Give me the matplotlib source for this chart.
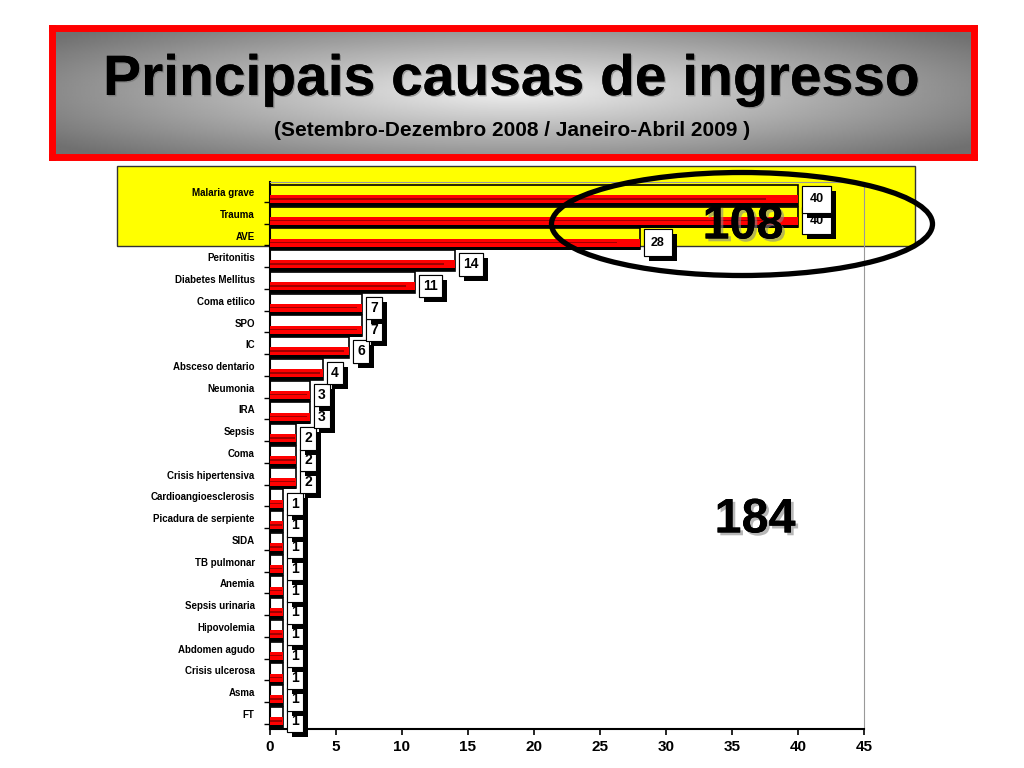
import numpy as np
import matplotlib
matplotlib.use("Agg")
from matplotlib import pyplot as plt
from matplotlib import patches
from matplotlib import patheffects as pe

causes = ["Malaria grave", "Trauma", "AVE", "Peritonitis", "Diabetes Mellitus",
          "Coma etilico", "SPO", "IC", "Absceso dentario", "Neumonia", "IRA",
          "Sepsis", "Coma", "Crisis hipertensiva", "Cardioangioesclerosis",
          "Picadura de serpiente", "SIDA", "TB pulmonar", "Anemia",
          "Sepsis urinaria", "Hipovolemia", "Abdomen agudo", "Crisis ulcerosa",
          "Asma", "FT"]
counts = [40, 40, 28, 14, 11, 7, 7, 6, 4, 3, 3, 2, 2, 2,
          1, 1, 1, 1, 1, 1, 1, 1, 1, 1, 1]
xticks = [0, 5, 10, 15, 20, 25, 30, 35, 40, 45]
title = "Principais causas de ingresso"
subtitle = "(Setembro-Dezembro 2008 / Janeiro-Abril 2009 )"
top_total = "108"
all_total = "184"

plt.rcParams['font.family'] = ['Liberation Sans', 'DejaVu Sans']

W, H = 1024, 768
fig = plt.figure(figsize=(W / 100, H / 100), dpi=100)
fig.patch.set_facecolor('white')


def fx(px):
    return px / W


def fy(py):
    return 1 - py / H


# --- banner ---
bax = fig.add_axes([fx(51.5), fy(156.5), fx(922), 129 / H])
gx, gy = np.meshgrid(np.linspace(-1, 1, 400), np.linspace(-1, 1, 120))
r = np.sqrt(gx ** 2 + (gy * 0.9) ** 2)
grad = 0.94 - 0.5 * np.clip(r / 1.25, 0, 1)
bax.imshow(grad, cmap='gray', vmin=0, vmax=1, extent=[0, 1, 0, 1],
           aspect='auto', interpolation='bilinear')
bax.set_xticks([])
bax.set_yticks([])
for s in bax.spines.values():
    s.set_color('#ff0000')
    s.set_linewidth(5)

shadow = [pe.withSimplePatchShadow(offset=(1, -1), shadow_rgbFace='#666666', alpha=0.5),
          pe.Normal()]
fig.text(0.5, fy(80), title, ha='center', va='center', fontsize=41,
         fontweight='bold', color='black', path_effects=shadow, zorder=5)
fig.text(0.5, fy(131), subtitle, ha='center', va='center', fontsize=15,
         fontweight='bold', color='black', zorder=5)

# --- yellow highlight ---
fig.add_artist(patches.Rectangle((fx(117), fy(246)), fx(798), 80 / H,
                                 transform=fig.transFigure, fc='#ffff00',
                                 ec='#333333', lw=1, zorder=-1))

# --- bar chart ---
ax = fig.add_axes([fx(270), fy(729), fx(594), 547 / H])
ax.patch.set_alpha(0)
ypos = np.arange(len(causes))
ax.barh(ypos, counts, height=0.96, fc='none', ec='black', lw=1.2, zorder=2)
ax.barh(ypos + 0.43, counts, height=0.13, color='black', zorder=3)
ax.barh(ypos + 0.18, counts, height=0.37, color='#ff0000', zorder=3)
ax.barh(ypos + 0.17, np.array(counts) * 0.94, height=0.07, color='#a00000', zorder=3)

ax.set_xlim(0, 45)
ax.set_ylim(24.54, -0.61)
ax.set_xticks(xticks)
ax.set_xticklabels([str(t) for t in xticks], fontsize=11, fontweight='bold')
ax.set_yticks(ypos - 0.15)
ax.set_yticklabels(causes, fontsize=7, fontweight='bold')
ax.tick_params(axis='y', length=0, pad=11)
ax.set_yticks(ypos + 0.3, minor=True)
ax.tick_params(axis='y', which='minor', length=4, width=1)
ax.tick_params(axis='x', length=4, width=1.2, pad=4)
ax.spines['top'].set_color('#999999')
ax.spines['right'].set_color('#999999')
ax.spines['left'].set_linewidth(1.5)
ax.spines['bottom'].set_linewidth(1.5)

# value boxes, bottom rows first so upper shadows overlap lower boxes
box_shadow = [pe.withSimplePatchShadow(offset=(3.6, -3.6), shadow_rgbFace='black', alpha=1),
              pe.Normal()]
for k, i in enumerate(range(len(causes) - 1, -1, -1)):
    v = counts[i]
    if i < 3:
        fs, pad = 9, 0.6
    else:
        fs, pad = 10, 0.3
    off = (4 + pad * fs * 1.389) / 1.389
    t = ax.annotate(str(v), xy=(v, i + 0.18), xytext=(off, 0),
                    textcoords='offset points', ha='left', va='center',
                    fontsize=fs, fontweight='bold', color='black', zorder=10 + k,
                    bbox=dict(boxstyle='square,pad=%g' % pad, fc='white', ec='black', lw=0.8))
    t.get_bbox_patch().set_path_effects(box_shadow)

# --- totals ---
tot_fx = [pe.withSimplePatchShadow(offset=(2, -2), shadow_rgbFace='#888888', alpha=0.6),
          pe.Normal()]
fig.add_artist(patches.Ellipse((fx(742), fy(224)), fx(381), 103 / H,
                               transform=fig.transFigure, fc='none', ec='black',
                               lw=3.8, zorder=60))
fig.text(fx(743), fy(226), top_total, ha='center', va='center', fontsize=35,
         fontweight='bold', color='black', path_effects=tot_fx, zorder=61)
fig.text(fx(755), fy(520), all_total, ha='center', va='center', fontsize=35,
         fontweight='bold', color='black', path_effects=tot_fx, zorder=61)

fig.savefig('out.png', dpi=100)
